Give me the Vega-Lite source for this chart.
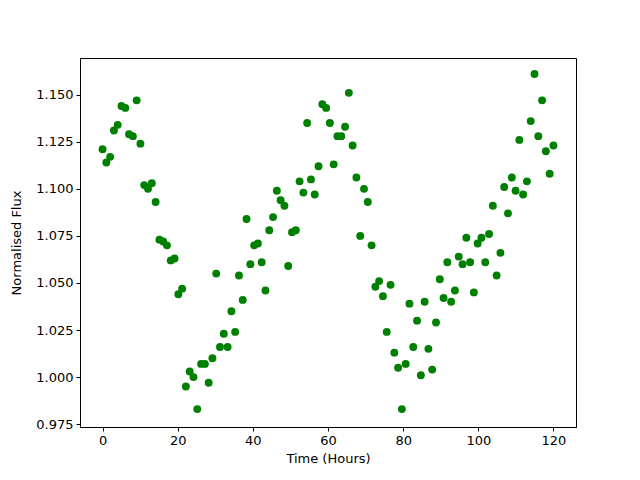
{
  "$schema": "https://vega.github.io/schema/vega-lite/v6.json",
  "width": 496,
  "height": 369,
  "autosize": {"type": "none"},
  "padding": {"left": 80, "top": 58, "right": 64, "bottom": 53},
  "background": "white",
  "config": {
    "view": {"stroke": "black", "strokeWidth": 1},
    "font": "DejaVu Sans",
    "axis": {
      "grid": false,
      "domainColor": "black",
      "tickColor": "black",
      "tickSize": 4,
      "labelColor": "black",
      "titleColor": "black",
      "labelFont": "DejaVu Sans",
      "titleFont": "DejaVu Sans",
      "labelFontSize": 13,
      "titleFontSize": 13,
      "titleFontWeight": "normal",
      "labelPadding": 3
    }
  },
  "data": {
    "values": [
      {"t": 0.0, "flux": 1.121}, {"t": 1.01, "flux": 1.114}, {"t": 2.02, "flux": 1.117}, {"t": 3.03, "flux": 1.131},
      {"t": 4.03, "flux": 1.134}, {"t": 5.04, "flux": 1.144}, {"t": 6.05, "flux": 1.143}, {"t": 7.06, "flux": 1.129},
      {"t": 8.07, "flux": 1.128}, {"t": 9.08, "flux": 1.147}, {"t": 10.08, "flux": 1.124}, {"t": 11.09, "flux": 1.102},
      {"t": 12.1, "flux": 1.100}, {"t": 13.11, "flux": 1.103}, {"t": 14.12, "flux": 1.093}, {"t": 15.13, "flux": 1.073},
      {"t": 16.13, "flux": 1.072}, {"t": 17.14, "flux": 1.070}, {"t": 18.15, "flux": 1.062}, {"t": 19.16, "flux": 1.063},
      {"t": 20.17, "flux": 1.044}, {"t": 21.18, "flux": 1.047}, {"t": 22.18, "flux": 0.995}, {"t": 23.19, "flux": 1.003},
      {"t": 24.2, "flux": 1.000}, {"t": 25.21, "flux": 0.983}, {"t": 26.22, "flux": 1.007}, {"t": 27.23, "flux": 1.007},
      {"t": 28.24, "flux": 0.997}, {"t": 29.24, "flux": 1.010}, {"t": 30.25, "flux": 1.055}, {"t": 31.26, "flux": 1.016},
      {"t": 32.27, "flux": 1.023}, {"t": 33.28, "flux": 1.016}, {"t": 34.29, "flux": 1.035}, {"t": 35.29, "flux": 1.024},
      {"t": 36.3, "flux": 1.054}, {"t": 37.31, "flux": 1.041}, {"t": 38.32, "flux": 1.084}, {"t": 39.33, "flux": 1.060},
      {"t": 40.34, "flux": 1.070}, {"t": 41.34, "flux": 1.071}, {"t": 42.35, "flux": 1.061}, {"t": 43.36, "flux": 1.046},
      {"t": 44.37, "flux": 1.078}, {"t": 45.38, "flux": 1.085}, {"t": 46.39, "flux": 1.099}, {"t": 47.39, "flux": 1.094},
      {"t": 48.4, "flux": 1.091}, {"t": 49.41, "flux": 1.059}, {"t": 50.42, "flux": 1.077}, {"t": 51.43, "flux": 1.078},
      {"t": 52.44, "flux": 1.104}, {"t": 53.45, "flux": 1.098}, {"t": 54.45, "flux": 1.135}, {"t": 55.46, "flux": 1.105},
      {"t": 56.47, "flux": 1.097}, {"t": 57.48, "flux": 1.112}, {"t": 58.49, "flux": 1.145}, {"t": 59.5, "flux": 1.143},
      {"t": 60.5, "flux": 1.135}, {"t": 61.51, "flux": 1.113}, {"t": 62.52, "flux": 1.128}, {"t": 63.53, "flux": 1.128},
      {"t": 64.54, "flux": 1.133}, {"t": 65.55, "flux": 1.151}, {"t": 66.55, "flux": 1.123}, {"t": 67.56, "flux": 1.106},
      {"t": 68.57, "flux": 1.075}, {"t": 69.58, "flux": 1.100}, {"t": 70.59, "flux": 1.093}, {"t": 71.6, "flux": 1.070},
      {"t": 72.61, "flux": 1.048}, {"t": 73.61, "flux": 1.051}, {"t": 74.62, "flux": 1.043}, {"t": 75.63, "flux": 1.024},
      {"t": 76.64, "flux": 1.049}, {"t": 77.65, "flux": 1.013}, {"t": 78.66, "flux": 1.005}, {"t": 79.66, "flux": 0.983},
      {"t": 80.67, "flux": 1.007}, {"t": 81.68, "flux": 1.039}, {"t": 82.69, "flux": 1.016}, {"t": 83.7, "flux": 1.030},
      {"t": 84.71, "flux": 1.001}, {"t": 85.71, "flux": 1.040}, {"t": 86.72, "flux": 1.015}, {"t": 87.73, "flux": 1.004},
      {"t": 88.74, "flux": 1.029}, {"t": 89.75, "flux": 1.052}, {"t": 90.76, "flux": 1.042}, {"t": 91.76, "flux": 1.061},
      {"t": 92.77, "flux": 1.040}, {"t": 93.78, "flux": 1.046}, {"t": 94.79, "flux": 1.064}, {"t": 95.8, "flux": 1.060},
      {"t": 96.81, "flux": 1.074}, {"t": 97.82, "flux": 1.061}, {"t": 98.82, "flux": 1.045}, {"t": 99.83, "flux": 1.071},
      {"t": 100.84, "flux": 1.074}, {"t": 101.85, "flux": 1.061}, {"t": 102.86, "flux": 1.076}, {"t": 103.87, "flux": 1.091},
      {"t": 104.87, "flux": 1.054}, {"t": 105.88, "flux": 1.066}, {"t": 106.89, "flux": 1.101}, {"t": 107.9, "flux": 1.087},
      {"t": 108.91, "flux": 1.106}, {"t": 109.92, "flux": 1.099}, {"t": 110.92, "flux": 1.126}, {"t": 111.93, "flux": 1.097},
      {"t": 112.94, "flux": 1.104}, {"t": 113.95, "flux": 1.136}, {"t": 114.96, "flux": 1.161}, {"t": 115.97, "flux": 1.128},
      {"t": 116.97, "flux": 1.147}, {"t": 117.98, "flux": 1.120}, {"t": 118.99, "flux": 1.108}, {"t": 120.0, "flux": 1.123}
    ]
  },
  "mark": {"type": "point", "filled": true, "shape": "circle", "size": 62, "color": "#008000", "opacity": 1},
  "encoding": {
    "x": {
      "field": "t",
      "type": "quantitative",
      "title": "Time (Hours)",
      "scale": {"domain": [-6, 126], "nice": false, "zero": false},
      "axis": {"values": [0, 20, 40, 60, 80, 100, 120], "format": "d", "titlePadding": 5}
    },
    "y": {
      "field": "flux",
      "type": "quantitative",
      "title": "Normalised Flux",
      "scale": {"domain": [0.9735, 1.1695], "nice": false, "zero": false},
      "axis": {"values": [0.975, 1.0, 1.025, 1.05, 1.075, 1.1, 1.125, 1.15], "format": ".3f", "titlePadding": 12}
    }
  }
}
